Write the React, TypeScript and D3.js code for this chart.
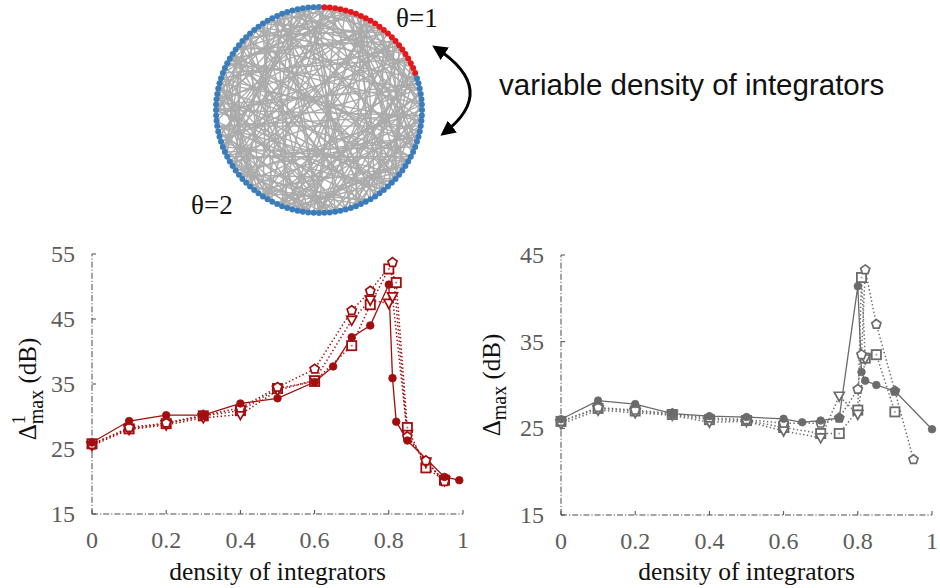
import React from "react";
import * as d3 from "d3";

// ---------- data ----------
const densityTicks = [0, 0.2, 0.4, 0.6, 0.8, 1];
const densityTickLabels = ["0", "0.2", "0.4", "0.6", "0.8", "1"];
const leftYTicks = [15, 25, 35, 45, 55];
const rightYTicks = [15, 25, 35, 45];

// left panel (Δ¹max)
const leftCircle: [number, number][] = [
  [0, 26.0], [0.1, 29.3], [0.2, 30.2], [0.3, 30.2], [0.4, 32.0], [0.5, 32.8],
  [0.6, 35.3], [0.65, 37.7], [0.7, 42.2], [0.75, 44.0], [0.8, 50.3], [0.81, 35.9],
  [0.82, 29.2], [0.85, 26.3], [0.95, 20.7], [0.99, 20.2],
];
const leftSquare: [number, number][] = [
  [0, 25.8], [0.1, 28.1], [0.2, 28.9], [0.3, 30.1], [0.4, 30.9], [0.5, 34.3],
  [0.6, 35.4], [0.7, 40.9], [0.75, 47.2], [0.8, 52.7], [0.82, 50.6], [0.85, 28.3],
  [0.9, 22.1], [0.95, 20.2],
];
const leftTriangle: [number, number][] = [
  [0, 25.5], [0.1, 28.0], [0.2, 28.7], [0.3, 29.8], [0.4, 30.3], [0.5, 34.0],
  [0.6, 35.6], [0.7, 44.8], [0.75, 47.9], [0.8, 47.4], [0.81, 48.4], [0.85, 27.2],
  [0.9, 23.0], [0.95, 20.1],
];
const leftPentagon: [number, number][] = [
  [0, 25.7], [0.1, 28.3], [0.2, 29.0], [0.3, 30.2], [0.4, 31.3], [0.5, 34.5],
  [0.6, 37.3], [0.7, 46.3], [0.75, 49.3], [0.81, 53.7], [0.85, 26.9], [0.9, 23.2],
  [0.95, 20.0],
];

// right panel (Δmax)
const rightCircle: [number, number][] = [
  [0, 26.05], [0.1, 28.2], [0.2, 27.8], [0.3, 26.7], [0.4, 26.4], [0.5, 26.3],
  [0.6, 26.1], [0.65, 25.7], [0.7, 25.9], [0.75, 26.2], [0.8, 41.4], [0.81, 31.5],
  [0.82, 30.5], [0.85, 30.0], [0.9, 29.3], [1.0, 24.9],
];
const rightSquare: [number, number][] = [
  [0, 25.8], [0.1, 27.3], [0.2, 27.0], [0.3, 26.6], [0.4, 26.0], [0.5, 25.9],
  [0.6, 25.1], [0.7, 24.4], [0.75, 24.4], [0.8, 27.1], [0.81, 42.4], [0.82, 33.1],
  [0.85, 33.5], [0.9, 26.9],
];
const rightTriangle: [number, number][] = [
  [0, 25.5], [0.1, 27.1], [0.2, 26.8], [0.3, 26.5], [0.4, 25.7], [0.5, 25.8],
  [0.6, 24.7], [0.7, 23.9], [0.75, 28.7], [0.8, 26.6], [0.82, 33.0],
];
const rightPentagon: [number, number][] = [
  [0, 25.8], [0.1, 27.4], [0.2, 27.1], [0.3, 26.7], [0.4, 26.2], [0.5, 26.0],
  [0.6, 25.6], [0.7, 25.6], [0.75, 26.2], [0.8, 29.5], [0.81, 33.5], [0.82, 43.3],
  [0.85, 37.0], [0.9, 29.3], [0.95, 21.4],
];

// network illustration
const nodeCount = 120;
const redNodes = d3.range(1, 24);
const edges: [number, number][] = [
  [0,57],[3,88],[5,41],[7,102],[9,66],[11,30],[12,95],[14,71],[16,49],[18,110],[20,84],[22,60],
  [24,3],[26,91],[28,45],[30,77],[32,115],[34,58],[36,99],[38,12],[40,83],[42,67],[44,105],[46,21],
  [48,90],[50,8],[52,74],[54,118],[56,33],[58,97],[60,15],[62,86],[64,39],[66,112],[68,27],[70,93],
  [72,50],[74,1],[76,62],[78,104],[80,35],[82,117],[84,47],[86,10],[88,69],[90,25],[92,108],[94,55],
  [96,18],[98,73],[100,37],[102,81],[104,6],[106,64],[108,29],[110,89],[112,44],[114,76],[116,13],[118,52],
  [1,70],[4,36],[6,98],[8,53],[10,119],[13,80],[15,42],[17,92],[19,63],[21,107],[23,48],[25,85],
  [27,4],[29,100],[31,61],[33,114],[35,78],[37,2],[39,94],[41,68],[43,116],[45,19],[47,87],[49,9],
  [51,101],[53,31],[55,111],[57,23],[59,79],[61,5],[63,103],[65,40],[67,17],[69,109],[71,34],[73,96],
  [75,11],[77,51],[79,113],[81,26],[83,65],[85,0],[87,43],[89,20],[91,56],[93,117],[95,32],[97,72],
  [99,7],[101,59],[103,24],[105,82],[107,46],[109,14],[111,75],[113,38],[115,99],[117,54],[119,28],
  [2,45],[5,83],[9,30],[14,100],[18,60],[22,115],[27,70],[31,90],[36,8],[40,105],[44,66],[49,112],
  [53,20],[58,86],[63,35],[67,1],[72,106],[77,44],[81,10],[86,57],[90,118],[95,62],[99,26],[104,78],
  [108,50],[113,17],[118,85],[3,60],[11,76],[19,108],[26,52],[34,96],[43,7],[51,88],[60,113],[68,33],
  [76,102],[84,16],[93,58],[101,39],[110,71],[116,30],[6,47],[24,66],[39,81],[57,104],[75,29],[92,40],
  [109,3],[12,64],[46,93],[70,115],[15,55],[32,74],[47,100],[65,9],[82,37],[97,2],[114,60],[28,119],
  [2,79],[7,38],[10,62],[13,105],[17,44],[20,97],[23,71],[25,116],[29,54],[33,87],[37,111],[41,6],
  [45,90],[48,13],[52,103],[56,80],[59,22],[62,109],[66,28],[69,95],[73,41],[78,3],[80,61],[83,118],
  [87,31],[91,11],[94,73],[98,46],[102,16],[106,89],[111,49],[115,67],[119,83],[4,92],[8,27],[16,79],
];

// ---------- styling ----------
const RED = "#a20e0e";
const GREY = "#6b6b6b";
const AXIS = "#4a4a4a";
const TICKTXT = "#5c5c5c";
const SERIF = "'Liberation Serif', 'DejaVu Serif', serif";
const SANS = "'Liberation Sans', Arial, sans-serif";

type Shape = "circle" | "square" | "triangle" | "pentagon";

function pentagonPath(cx: number, cy: number, r: number) {
  const pts = d3.range(5).map((k) => {
    const a = (-90 + 72 * k) * (Math.PI / 180);
    return [cx + r * Math.cos(a), cy + r * Math.sin(a)];
  });
  return "M" + pts.map((p) => p.join(",")).join("L") + "Z";
}

function Marker({ shape, x, y, color }: { shape: Shape; x: number; y: number; color: string }) {
  if (shape === "circle") return <circle cx={x} cy={y} r={3.8} fill={color} stroke={color} strokeWidth={0.8} />;
  if (shape === "square")
    return (
      <g>
        <rect x={x - 4.6} y={y - 4.6} width={9.2} height={9.2} fill="#fff" stroke={color} strokeWidth={1.8} />
        <rect x={x - 0.9} y={y - 0.9} width={1.8} height={1.8} fill={color} opacity={0.6} />
      </g>
    );
  if (shape === "triangle")
    return (
      <path
        d={`M${x - 5},${y - 4}L${x + 5},${y - 4}L${x},${y + 5}Z`}
        fill="#fff"
        stroke={color}
        strokeWidth={1.7}
      />
    );
  return <path d={pentagonPath(x, y, 4.8)} fill="#fff" stroke={color} strokeWidth={1.7} />;
}

type Series = { data: [number, number][]; shape: Shape; dotted: boolean };

function Panel({
  x0, x1, yBottom, yTop, yDomain, yTicks, color, series, labelX, labelLeft,
}: {
  x0: number; x1: number; yBottom: number; yTop: number; yDomain: [number, number];
  yTicks: number[]; color: string; series: Series[]; labelX: number; labelLeft: boolean;
}) {
  const xs = d3.scaleLinear().domain([0, 1]).range([x0, x1]);
  const ys = d3.scaleLinear().domain(yDomain).range([yBottom, yTop]);
  const line = d3.line<[number, number]>().x((d) => xs(d[0])).y((d) => ys(d[1]));
  const dash = "6,2,1.2,2";
  const midY = (yBottom + yTop) / 2;
  return (
    <g>
      {/* axes */}
      <line x1={x0} x2={x0} y1={ys(yDomain[0])} y2={ys(yDomain[1])} stroke={AXIS} strokeWidth={1} strokeDasharray={dash} />
      <line x1={x0} x2={x1} y1={yBottom} y2={yBottom} stroke={AXIS} strokeWidth={1} strokeDasharray={dash} />
      {yTicks.map((t) => (
        <g key={"y" + t}>
          <line x1={x0} x2={x0 + 4} y1={ys(t)} y2={ys(t)} stroke={AXIS} strokeWidth={1} />
          <text x={x0 - 17} y={ys(t) + 8} textAnchor="end" fontFamily={SERIF} fontSize={24} fill={TICKTXT}>
            {t}
          </text>
        </g>
      ))}
      {densityTicks.map((t, i) => (
        <g key={"x" + t}>
          <line x1={xs(t)} x2={xs(t)} y1={yBottom} y2={yBottom - 4} stroke={AXIS} strokeWidth={1} />
          <text x={xs(t)} y={yBottom + 34} textAnchor="middle" fontFamily={SERIF} fontSize={24} fill={TICKTXT}>
            {densityTickLabels[i]}
          </text>
        </g>
      ))}
      <text x={(x0 + x1) / 2} y={580} textAnchor="middle" fontFamily={SERIF} fontSize={25.5} fill="#111">
        density of integrators
      </text>
      {/* y label */}
      {labelLeft ? (
        <text transform={`translate(${labelX},${midY + 5}) rotate(-90)`} textAnchor="middle" fontFamily={SERIF} fontSize={25} fill="#111">
          Δ<tspan dy={-11} fontSize={18}>1</tspan>
          <tspan dx={-9} dy={18} fontSize={20}>max</tspan>
          <tspan dy={-7}> (dB)</tspan>
        </text>
      ) : (
        <text transform={`translate(${labelX},${midY}) rotate(-90)`} textAnchor="middle" fontFamily={SERIF} fontSize={25} fill="#111">
          Δ<tspan dy={6} fontSize={20}>max</tspan>
          <tspan dy={-6}> (dB)</tspan>
        </text>
      )}
      {/* lines */}
      {series.map((s, i) => (
        <path
          key={"l" + i}
          d={line(s.data) || ""}
          fill="none"
          stroke={color}
          strokeWidth={s.dotted ? 1.5 : 1.3}
          strokeDasharray={s.dotted ? "1.4,2.4" : undefined}
          strokeLinecap="butt"
        />
      ))}
      {/* markers */}
      {series.map((s, i) => (
        <g key={"m" + i}>
          {s.data.map((d, j) => (
            <Marker key={j} shape={s.shape} x={xs(d[0])} y={ys(d[1])} color={color} />
          ))}
        </g>
      ))}
    </g>
  );
}

function Network() {
  const cx = 319, cy = 110, R = 103;
  const pos = d3.range(nodeCount).map((i) => {
    const a = (i / nodeCount) * 2 * Math.PI;
    return [cx + R * Math.sin(a), cy - R * Math.cos(a)];
  });
  const red = new Set(redNodes);
  return (
    <g>
      {edges.map(([a, b], i) => (
        <line key={i} x1={pos[a][0]} y1={pos[a][1]} x2={pos[b][0]} y2={pos[b][1]} stroke="#ababab" strokeWidth={1.4} />
      ))}
      {pos.map((p, i) => (
        <circle key={i} cx={p[0]} cy={p[1]} r={3} fill={red.has(i) ? "#e3191c" : "#3b7dbb"} />
      ))}
      <text x={396} y={27} fontFamily={SERIF} fontSize={27} fill="#111">θ=1</text>
      <text x={191} y={214} fontFamily={SERIF} fontSize={27} fill="#111">θ=2</text>
      <defs>
        <marker id="ah" viewBox="0 0 10 10" refX="7" refY="5" markerWidth="5" markerHeight="5" orient="auto-start-reverse">
          <path d="M0,0L10,5L0,10Z" fill="#000" />
        </marker>
      </defs>
      <path d="M436,48 Q500,90 444,133" fill="none" stroke="#000" strokeWidth={3} markerStart="url(#ah)" markerEnd="url(#ah)" />
      <text x={499} y={95} fontFamily={SANS} fontSize={29.5} fill="#111">variable density of integrators</text>
    </g>
  );
}

export default function App() {
  const leftSeries: Series[] = [
    { data: leftSquare, shape: "square", dotted: true },
    { data: leftTriangle, shape: "triangle", dotted: true },
    { data: leftPentagon, shape: "pentagon", dotted: true },
    { data: leftCircle, shape: "circle", dotted: false },
  ];
  const rightSeries: Series[] = [
    { data: rightSquare, shape: "square", dotted: true },
    { data: rightTriangle, shape: "triangle", dotted: true },
    { data: rightPentagon, shape: "pentagon", dotted: true },
    { data: rightCircle, shape: "circle", dotted: false },
  ];
  return (
    <svg width={940} height={588} style={{ position: "absolute", left: 0, top: 0, background: "#fff" }}>
      <rect width={940} height={588} fill="#fff" />
      <Network />
      <Panel x0={92} x1={463} yBottom={514} yTop={254} yDomain={[15, 55]} yTicks={leftYTicks} color={RED} series={leftSeries} labelX={36} labelLeft={true} />
      <Panel x0={561} x1={932} yBottom={515} yTop={255} yDomain={[15, 45]} yTicks={rightYTicks} color={GREY} series={rightSeries} labelX={500} labelLeft={false} />
    </svg>
  );
}
